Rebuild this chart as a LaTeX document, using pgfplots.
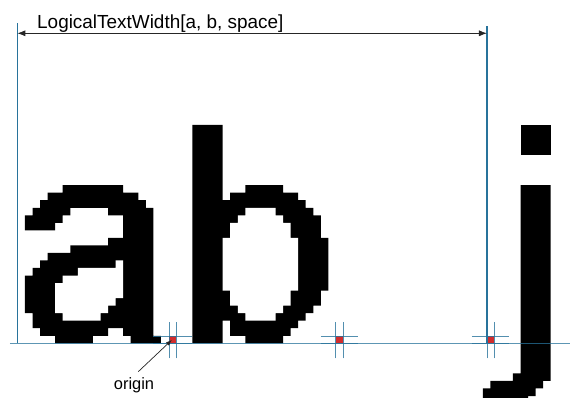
\documentclass[border=0pt]{standalone}
\usepackage{fontspec}
\setmainfont{Liberation Sans}
\usepackage{pgfplots}
\pgfplotsset{compat=1.18}
\usetikzlibrary{arrows.meta}
\definecolor{lineblue}{RGB}{40,115,155}
\definecolor{orred}{RGB}{210,45,45}
\begin{document}
\begin{tikzpicture}
\begin{axis}[width=570bp, height=398bp, scale only axis, hide axis,
  xmin=-3.311, xmax=72.185, ymin=-7.264, ymax=45.591]
% background
\addplot[draw=none, fill=white] coordinates {(-3.311,-7.264) (72.185,-7.264) (72.185,45.591) (-3.311,45.591)};
% glyph a
\addplot[fill=black, draw=none] coordinates {
(0,15) (0,17) (1,17) (1,18) (2,18) (2,19) (3,19) (3,20) (5,20) (5,21) (13,21) (13,20) (15,20) (15,19) (16,19) (16,18) (17,18)
(17,1) (18,1) (18,0) (14,0) (14,1) (13,1) (13,2) (11,2) (11,1) (9,1) (9,0) (4,0) (4,1) (2,1) (2,2) (1,2) (1,4) (0,4) (0,9)
(1,9) (1,10) (2,10) (2,11) (3,11) (3,12) (6,12) (6,13) (11,13) (11,14) (13,14) (13,17) (11,17) (11,18) (6,18) (6,17) (5,17)
(5,16) (4,16) (4,15)};
\addplot[fill=white, draw=none] coordinates {
(12,11) (13,11) (13,6) (12,6) (12,5) (11,5) (11,4) (10,4) (10,3) (5,3) (5,4) (4,4) (4,8) (5,8) (5,9) (7,9) (7,10) (12,10)};
% glyph b
\addplot[fill=black, draw=none] coordinates {
(22.18,29) (26.18,29) (26.18,19) (27.18,19) (27.18,20) (29.18,20) (29.18,21) (34.18,21) (34.18,20) (36.18,20) (36.18,19)
(37.18,19) (37.18,18) (38.18,18) (38.18,17) (39.18,17) (39.18,14) (40.18,14) (40.18,7) (39.18,7) (39.18,5) (38.18,5)
(38.18,4) (37.18,4) (37.18,3) (36.18,3) (36.18,2) (35.18,2) (35.18,1) (34.18,1) (34.18,0) (29.18,0) (29.18,1) (27.18,1)
(27.18,3) (26.18,3) (26.18,0) (22.18,0)};
\addplot[fill=white, draw=none] coordinates {
(29.18,18) (33.18,18) (33.18,17) (34.18,17) (34.18,16) (35.18,16) (35.18,14) (36.18,14) (36.18,7) (35.18,7) (35.18,5)
(34.18,5) (34.18,4) (33.18,4) (33.18,3) (29.18,3) (29.18,4) (28.18,4) (28.18,5) (27.18,5) (27.18,7) (26.18,7) (26.18,14)
(27.18,14) (27.18,16) (28.18,16) (28.18,17) (29.18,17)};
% glyph j
\addplot[fill=black, draw=none] coordinates {
(65.63,21) (69.63,21) (69.63,-5) (68.63,-5) (68.63,-6) (67.63,-6) (67.63,-7) (66.63,-7) (66.63,-8) (60.63,-8) (60.63,-6)
(61.63,-6) (61.63,-5) (64.63,-5) (64.63,-4) (65.63,-4)};
\addplot[fill=black, draw=none] coordinates {(65.63,25) (69.63,25) (69.63,29) (65.63,29)};
% origin pixels
\addplot[fill=orred, draw=none] coordinates {(19.07,0) (20.0,0) (20.0,0.97) (19.07,0.97)};
\addplot[fill=orred, draw=none] coordinates {(41.18,0) (42.12,0) (42.12,0.97) (41.18,0.97)};
\addplot[fill=orred, draw=none] coordinates {(61.19,0) (62.12,0) (62.12,0.97) (61.19,0.97)};
% baseline
\addplot[lineblue, opacity=0.75, line width=1.5bp] coordinates {(-1.99,0) (72.2,0)};
% verticals
\addplot[lineblue, line width=1.1bp] coordinates {(-1.02,0) (-1.02,42.5)};
\addplot[lineblue, line width=1.1bp] coordinates {(61.19,0) (61.19,42.1)};
% crosshairs
\addplot[lineblue, opacity=0.8, line width=0.9bp] coordinates {(19.07,-1.99) (19.07,2.87)};
\addplot[lineblue, opacity=0.8, line width=0.9bp] coordinates {(20.0,-1.99) (20.0,2.87)};
\addplot[lineblue, opacity=0.8, line width=0.9bp] coordinates {(17.0,0) (22.08,0)};
\addplot[lineblue, opacity=0.8, line width=0.9bp] coordinates {(17.0,0.97) (22.08,0.97)};
\addplot[lineblue, opacity=0.8, line width=0.9bp] coordinates {(41.18,-1.99) (41.18,2.87)};
\addplot[lineblue, opacity=0.8, line width=0.9bp] coordinates {(42.12,-1.99) (42.12,2.87)};
\addplot[lineblue, opacity=0.8, line width=0.9bp] coordinates {(39.2,0) (44.1,0)};
\addplot[lineblue, opacity=0.8, line width=0.9bp] coordinates {(39.2,0.97) (44.1,0.97)};
\addplot[lineblue, opacity=0.8, line width=0.9bp] coordinates {(61.19,-1.99) (61.19,2.87)};
\addplot[lineblue, opacity=0.8, line width=0.9bp] coordinates {(62.12,-1.99) (62.12,2.87)};
\addplot[lineblue, opacity=0.8, line width=0.9bp] coordinates {(59.2,0) (64.1,0)};
\addplot[lineblue, opacity=0.8, line width=0.9bp] coordinates {(59.2,0.97) (64.1,0.97)};
% annotations
\draw[black!85, line width=0.8bp, {Latex[length=8bp,width=6bp]}-{Latex[length=8bp,width=6bp]}] (axis cs:-1.02,41.17) -- (axis cs:61.19,41.17);
\node[anchor=base west, inner sep=0pt, font=\fontsize{19}{21}\selectfont] at (axis cs:1.59,41.83) {LogicalTextWidth[a, b, space]};
\draw[black!85, line width=0.7bp, -{Latex[length=6bp,width=4.5bp]}] (axis cs:15.0,-3.77) -- (axis cs:19.45,0.45);
\node[anchor=base, inner sep=0pt, font=\fontsize{16.5}{19}\selectfont] at (axis cs:14.44,-6.07) {origin};
\end{axis}
\end{tikzpicture}
\end{document}
